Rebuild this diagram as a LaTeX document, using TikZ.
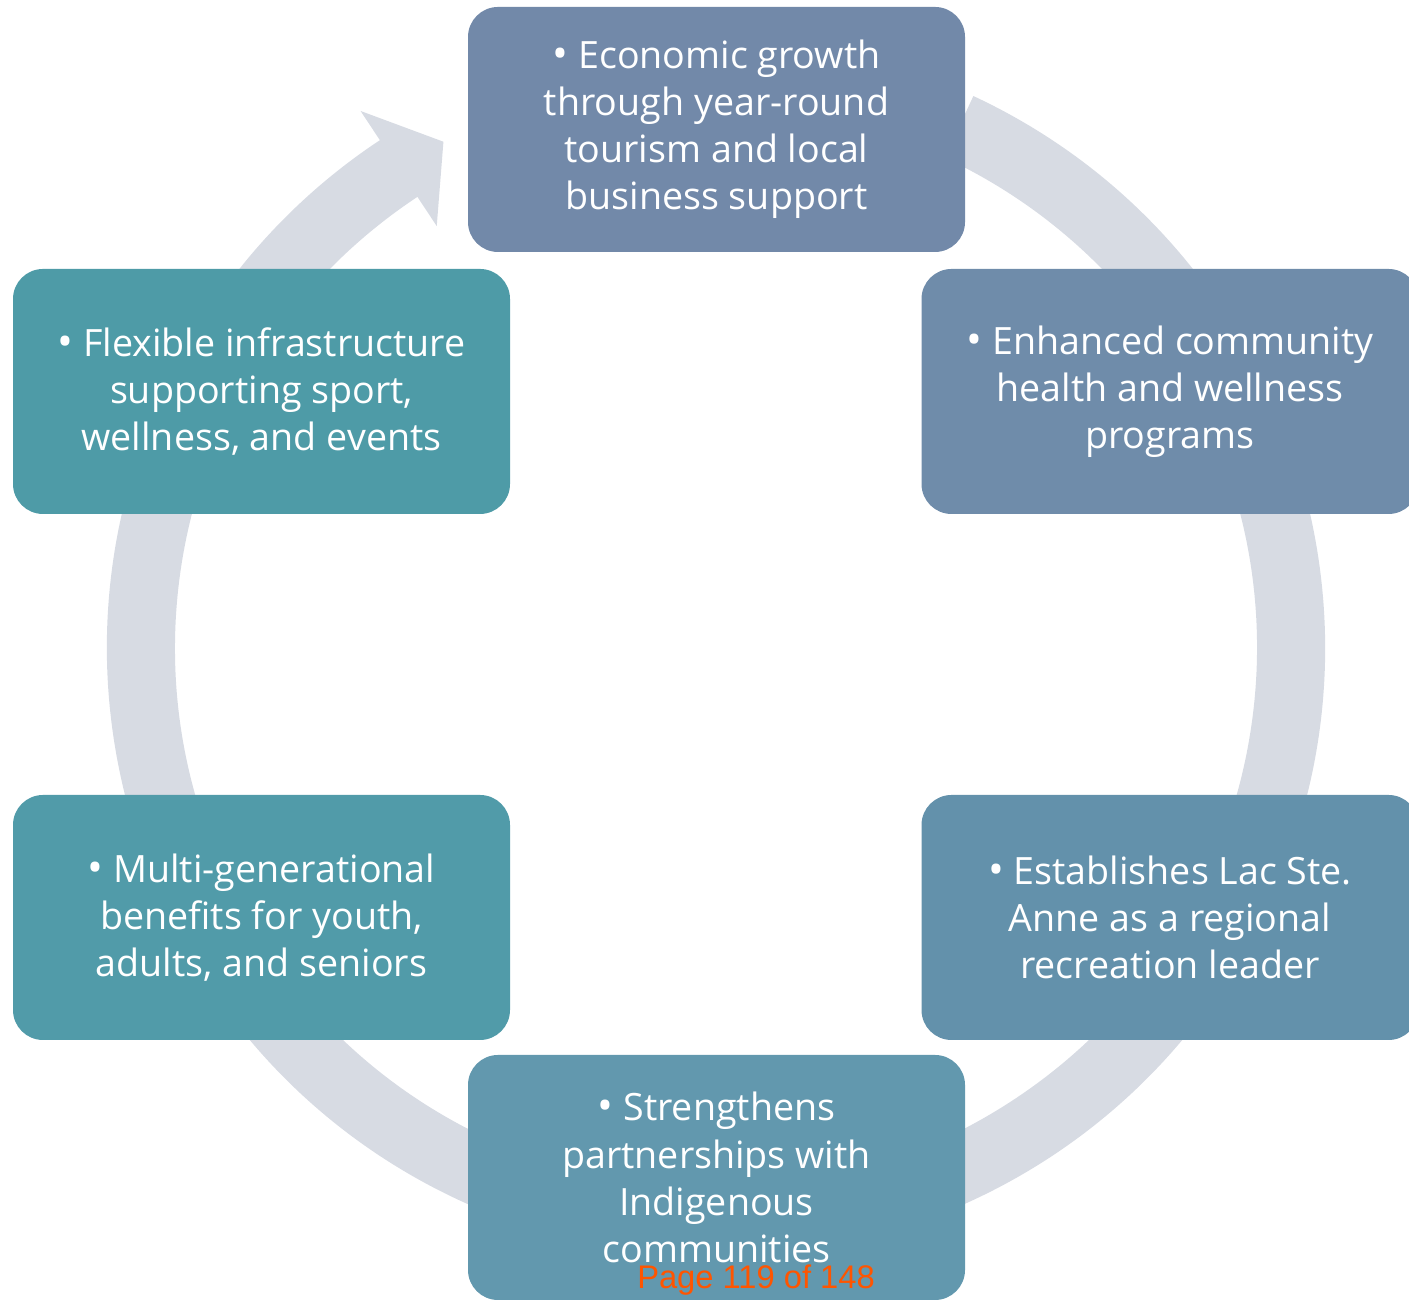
\documentclass[tikz,border=0pt]{standalone}
\usepackage{fontspec}
\setmainfont{Open Sans}
\newfontfamily\pagefont{Liberation Sans}
\definecolor{ringgrey}{HTML}{D7DBE3}
\definecolor{slateA}{HTML}{7289A9}
\definecolor{slateB}{HTML}{6F8CAA}
\definecolor{slateC}{HTML}{6391AB}
\definecolor{tealA}{HTML}{4E9BA7}
\definecolor{tealB}{HTML}{519BA9}
\definecolor{tealC}{HTML}{6298AE}
\definecolor{pageorange}{HTML}{FF5500}
\newcommand{\pt}{{\large\textbullet}\ }
\begin{document}
\begin{tikzpicture}
\tikzstyle{benefit}=[rounded corners=0.3cm, minimum width=4.97cm, minimum height=2.45cm, inner sep=0pt, text=white, align=center, font=\fontsize{10.7}{13.4}\selectfont]
\useasboundingbox (0,0) rectangle (14.09,13);
\coordinate (hub) at (7.16,6.52);
\fill [ringgrey, shift={(hub)}] (65:6.09) arc [start angle=65, end angle=-236.5, radius=6.09] -- (-236.5:6.44) -- (-241.7:5.75) -- (-236.5:5.06) -- (-236.5:5.41) arc [start angle=-236.5, end angle=65, radius=5.41] -- cycle;
\node [benefit, fill=slateA] (economy) at (7.165,11.705) {\pt Economic growth\\through year-round\\tourism and local\\business support};
\node [benefit, fill=slateB] (health) at (11.70,9.085) {\pt Enhanced community\\health and wellness\\programs};
\node [benefit, fill=slateC] (leader) at (11.70,3.825) {\pt Establishes Lac Ste.\\Anne as a regional\\recreation leader};
\node [benefit, fill=tealC] (partners) at (7.165,1.225) {\pt Strengthens\\partnerships with\\Indigenous\\communities};
\node [benefit, fill=tealB] (generations) at (2.615,3.825) {\pt Multi-generational\\benefits for youth,\\adults, and seniors};
\node [benefit, fill=tealA] (infra) at (2.615,9.085) {\pt Flexible infrastructure\\supporting sport,\\wellness, and events};
\node [anchor=base, inner sep=0pt, text=pageorange, font=\pagefont\fontsize{9.3}{11}\selectfont] (pagenum) at (7.56,0.11) {Page 119 of 148};
\end{tikzpicture}
\end{document}
